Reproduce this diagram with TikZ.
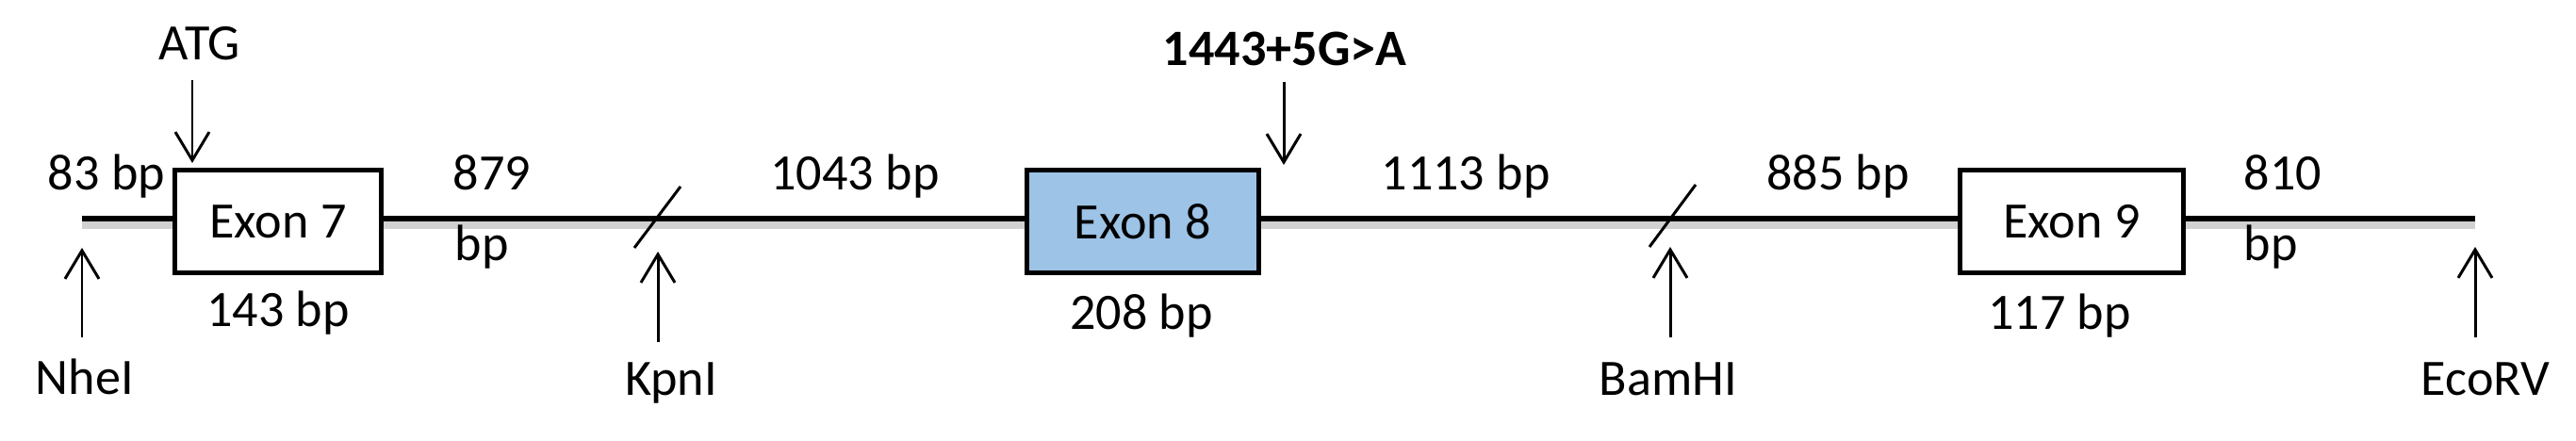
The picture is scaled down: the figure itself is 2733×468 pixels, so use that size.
\documentclass[tikz,border=0pt]{standalone}
\usepackage{fontspec}
\setmainfont{Carlito}
\usetikzlibrary{arrows.meta}
\definecolor{exonblue}{RGB}{157,195,230}
\begin{document}
\begin{tikzpicture}[x=0.01cm,y=-0.01cm,
  lbl/.style={font=\fontsize{15.4}{18}\selectfont, inner sep=0pt, anchor=base},
  lbll/.style={lbl, anchor=base west},
  exon/.style={draw=black, line width=1.4pt, fill=white, inner sep=0pt,
    font=\fontsize{15.4}{18}\selectfont, minimum height=1.09cm},
  ptr/.style={line width=0.85pt, -{Straight Barb[length=0.3cm,width=0.36cm,line width=0.85pt]}},
  cut/.style={line width=0.85pt},
  dna/.style={line width=1.7pt, line cap=butt},
  shade/.style={line width=2.2pt, black!18}]
\useasboundingbox (0,0) rectangle (2733,468);

% backbone
\coordinate (L) at (87,232);
\coordinate (R) at (2626,232);
\coordinate (Ls) at (87,239);
\coordinate (Rs) at (2626,239);
\draw[shade] (Ls) -- (Rs);
\draw[dna] (L) -- (R);

% cut marks
\coordinate (k1) at (673,263); \coordinate (k2) at (722,198);
\coordinate (b1) at (1750,262); \coordinate (b2) at (1799,196);
\draw[cut] (k1) -- (k2);
\draw[cut] (b1) -- (b2);

% exons
\node[exon, minimum width=2.19cm] (e7) at (295,235) {Exon 7};
\node[exon, minimum width=2.46cm, fill=exonblue] (e8) at (1212.5,235) {Exon 8};
\node[exon, minimum width=2.37cm] (e9) at (2198,235) {Exon 9};

% labels above
\node[lbl] (atg) at (212,64) {ATG};
\node[lbl, font=\fontsize{15.4}{18}\selectfont\bfseries] (mut) at (1363,70) {1443+5G>A};
\node[lbl] (s83) at (113,202) {83 bp};
\node[lbll] (s879a) at (480,202) {879};
\node[lbll] (s879b) at (482,277) {bp};
\node[lbl] (s1043) at (907,202) {1043 bp};
\node[lbl] (s1113) at (1555,202) {1113 bp};
\node[lbl] (s885) at (1950,202) {885 bp};
\node[lbll] (s810a) at (2380,202) {810};
\node[lbll] (s810b) at (2380,277) {bp};

% exon sizes
\node[lbl] (s143) at (295,347) {143 bp};
\node[lbl] (s208) at (1211,350) {208 bp};
\node[lbl] (s117) at (2185,350) {117 bp};

% restriction sites
\node[lbl] (nhe) at (90,419) {NheI};
\node[lbl] (kpn) at (712,420) {KpnI};
\node[lbl] (bam) at (1770,420) {BamHI};
\node[lbl] (eco) at (2637,420) {EcoRV};

% arrows
\coordinate (atgT) at (204,85);   \coordinate (atgH) at (204,173);
\coordinate (mutT) at (1362,87);  \coordinate (mutH) at (1362,175);
\coordinate (nheT) at (87,358);   \coordinate (nheH) at (87,263);
\coordinate (kpnT) at (698,363);  \coordinate (kpnH) at (698,267);
\coordinate (bamT) at (1772,358); \coordinate (bamH) at (1772,262);
\coordinate (ecoT) at (2626,358); \coordinate (ecoH) at (2626,262);
\draw[ptr] (atgT) -- (atgH);
\draw[ptr] (mutT) -- (mutH);
\draw[ptr] (nheT) -- (nheH);
\draw[ptr] (kpnT) -- (kpnH);
\draw[ptr] (bamT) -- (bamH);
\draw[ptr] (ecoT) -- (ecoH);
\end{tikzpicture}
\end{document}
